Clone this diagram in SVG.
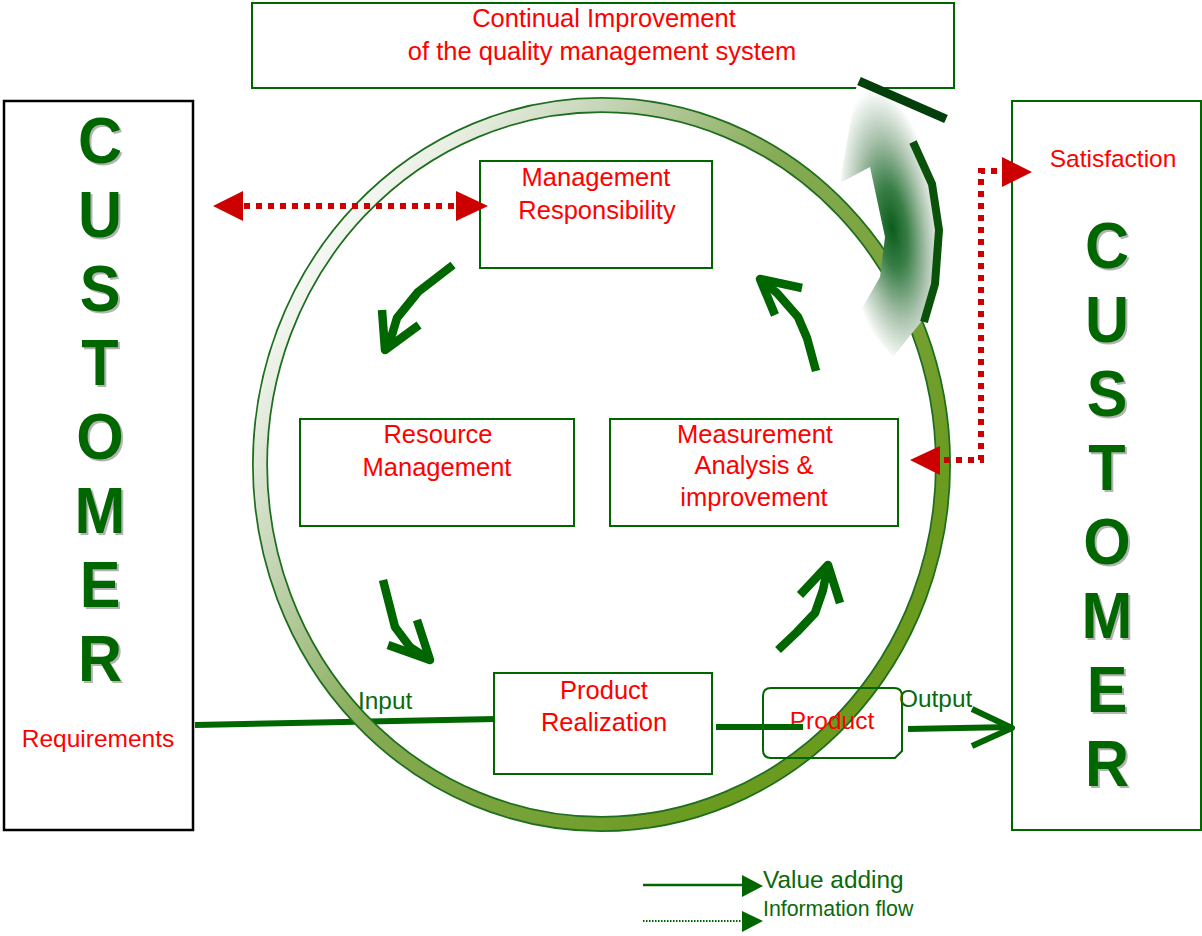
<svg xmlns="http://www.w3.org/2000/svg" xmlns:xlink="http://www.w3.org/1999/xlink" width="1202" height="936" viewBox="0 0 1202 936">
  <style>
    .box { fill: #ffffff; stroke: #006600; stroke-width: 2; }
    .boxk { fill: #ffffff; stroke: #000000; stroke-width: 2.5; }
    .lbl { font-family: "Liberation Sans", Arial, sans-serif; font-size: 25.5px; fill: #ff0000; text-anchor: middle; }
    .lbls { font-family: "Liberation Sans", Arial, sans-serif; font-size: 24.5px; fill: #ff0000; text-anchor: middle; }
    .grn { font-family: "Liberation Sans", Arial, sans-serif; font-size: 24.4px; fill: #0a6a0a; }
    .grn-sm { font-family: "Liberation Sans", Arial, sans-serif; font-size: 21.3px; fill: #0a6a0a; }
    .big { font-family: "Liberation Sans", Arial, sans-serif; font-size: 61px; font-weight: bold; text-anchor: middle; }
    .hand { fill: none; stroke: #006600; stroke-width: 8.5; stroke-linejoin: round; stroke-linecap: butt; }
    .flow { fill: none; stroke: #006600; stroke-width: 6; }
    .info { fill: none; stroke: #cc0000; stroke-width: 6; stroke-dasharray: 6 6; }
    .redhead { fill: #cc0000; }
  </style>
  <defs>
    <linearGradient id="ringGrad" gradientUnits="userSpaceOnUse" x1="250" y1="300" x2="800" y2="700">
      <stop offset="0" stop-color="#ffffff"/>
      <stop offset="0.25" stop-color="#c6d6b8"/>
      <stop offset="0.5" stop-color="#86ab55"/>
      <stop offset="1" stop-color="#6a9a1e"/>
    </linearGradient>
    <radialGradient id="arrowGrad" gradientUnits="userSpaceOnUse" cx="0" cy="0" r="1" gradientTransform="translate(892,228) rotate(-8) scale(50,140)">
      <stop offset="0" stop-color="#0a5c1a"/>
      <stop offset="0.3" stop-color="#3a7f48"/>
      <stop offset="0.65" stop-color="#a9c2ac"/>
      <stop offset="1" stop-color="#ffffff"/>
    </radialGradient>
    <g id="colLeft">
      <text class="big" transform="matrix(1,0,0,1.07,100,163)">C</text>
      <text class="big" transform="matrix(1,0,0,1.07,100,237)">U</text>
      <text class="big" transform="matrix(1,0,0,1.07,100,311)">S</text>
      <text class="big" transform="matrix(1,0,0,1.07,100,385)">T</text>
      <text class="big" transform="matrix(1,0,0,1.07,100,459)">O</text>
      <text class="big" transform="matrix(1,0,0,1.07,100,533)">M</text>
      <text class="big" transform="matrix(1,0,0,1.07,100,607)">E</text>
      <text class="big" transform="matrix(1,0,0,1.07,100,681)">R</text>
    </g>
    <g id="colRight">
      <text class="big" transform="matrix(1,0,0,1.07,1107,268)">C</text>
      <text class="big" transform="matrix(1,0,0,1.07,1107,342)">U</text>
      <text class="big" transform="matrix(1,0,0,1.07,1107,416)">S</text>
      <text class="big" transform="matrix(1,0,0,1.07,1107,490)">T</text>
      <text class="big" transform="matrix(1,0,0,1.07,1107,564)">O</text>
      <text class="big" transform="matrix(1,0,0,1.07,1107,638)">M</text>
      <text class="big" transform="matrix(1,0,0,1.07,1107,712)">E</text>
      <text class="big" transform="matrix(1,0,0,1.07,1107,786)">R</text>
    </g>
  </defs>

  <rect width="1202" height="936" fill="#ffffff"/>

  <!-- customer boxes -->
  <g id="customer-left">
    <rect class="boxk" x="4" y="101" width="189" height="729"/>
    <use xlink:href="#colLeft" fill="#b4b4b4" x="2" y="2"/>
    <use xlink:href="#colLeft" fill="#006600"/>
    <text class="lbls" x="98" y="747">Requirements</text>
  </g>
  <g id="customer-right">
    <rect class="box" x="1012" y="101" width="189" height="729"/>
    <use xlink:href="#colRight" fill="#b4b4b4" x="2" y="2"/>
    <use xlink:href="#colRight" fill="#006600"/>
    <text class="lbls" x="1113" y="167">Satisfaction</text>
  </g>

  <!-- input flow runs beneath the cycle ring -->
  <g id="connectors-under">
    <path class="flow" d="M195,725 L496,719"/>
  </g>

  <!-- continual improvement ring -->
  <g id="ring">
    <ellipse cx="601.5" cy="464.5" rx="341.5" ry="359.5" fill="none" stroke="#1f6e1f" stroke-width="16"/>
    <ellipse cx="601.5" cy="464.5" rx="341.5" ry="359.5" fill="none" stroke="url(#ringGrad)" stroke-width="12.5"/>
  </g>

  <g id="continual-improvement">
    <rect class="box" x="252" y="3" width="702" height="85"/>
    <text class="lbl" x="604" y="27">Continual Improvement</text>
    <text class="lbl" x="602" y="60">of the quality management system</text>
  </g>

  <g id="management-responsibility">
    <rect class="box" x="480" y="161" width="232" height="107"/>
    <text class="lbl" x="596" y="186">Management</text>
    <text class="lbl" x="597" y="219">Responsibility</text>
  </g>

  <g id="resource-management">
    <rect class="box" x="300" y="419" width="274" height="107"/>
    <text class="lbl" x="438" y="443">Resource</text>
    <text class="lbl" x="437" y="476">Management</text>
  </g>

  <g id="measurement">
    <rect class="box" x="610" y="419" width="288" height="107"/>
    <text class="lbl" x="755" y="443">Measurement</text>
    <text class="lbl" x="754" y="474">Analysis &amp;</text>
    <text class="lbl" x="754" y="506">improvement</text>
  </g>

  <g id="product-realization">
    <rect class="box" x="494" y="673" width="218" height="101"/>
    <text class="lbl" x="604" y="699">Product</text>
    <text class="lbl" x="604" y="731">Realization</text>
  </g>

  <g id="product">
    <path d="M771,688 H894 Q902,688 902,696 V751 L895,758 H771 Q763,758 763,750 V696 Q763,688 771,688 Z" fill="none" stroke="#006600" stroke-width="2"/>
    <text class="lbls" x="832" y="729">Product</text>
  </g>

  <!-- improvement arrow leaving the ring -->
  <g id="improvement-arrow">
    <path d="M858,315 L880,277 L885,237 L870,167 L840,183 L857,83 L948,118 L912,145 L932,185 L938,230 L933,282 L921,322 L893,357 Z" fill="url(#arrowGrad)"/>
    <path d="M913,142 L932,184 L939,230 L935,284 L924,322" fill="none" stroke="#0a520a" stroke-width="8"/>
    <path d="M859,81 L946,119" fill="none" stroke="#033f0a" stroke-width="9"/>
  </g>

  <g id="connectors">
    <!-- cycle arrows -->
    <path class="hand" d="M453,265 L418,292 L397,318 L388,348"/>
    <path class="hand" d="M382,310 L385,350 L419,325"/>
    <path class="hand" d="M816,371 L807,338 L798,317 L777,293 L760,279"/>
    <path class="hand" d="M802,288 L760,279 L775,315"/>
    <path class="hand" d="M383,580 L395,627 L410,647 L430,660"/>
    <path class="hand" d="M417,620 L430,660 L388,645"/>
    <path class="hand" d="M778,650 L797,632 L815,613 L823,590 L828,565"/>
    <path class="hand" d="M800,595 L828,565 L840,603"/>

    <!-- product flow -->
    <path class="flow" d="M716,727 L803,727"/>
    <path class="flow" d="M908,729 L1012,727"/>
    <path class="flow" d="M972,709 L1012,728 L972,746" stroke-linejoin="round"/>

    <!-- information flows -->
    <path class="info" d="M244,206 L456,206"/>
    <polygon class="redhead" points="213,206 243,191 243,221"/>
    <polygon class="redhead" points="488,206 456,191 456,221"/>
    <path class="info" d="M944,460 L981,460 L981,171 L1003,171"/>
    <polygon class="redhead" points="910,460 940,446 940,475"/>
    <polygon class="redhead" points="1032,172 1002,157 1002,187"/>

    <text class="grn" x="358" y="709">Input</text>
    <text class="grn" x="899" y="707">Output</text>
  </g>

  <!-- legend -->
  <g id="legend">
    <path d="M643,885 L743,885" stroke="#006600" stroke-width="2.5" fill="none"/>
    <polygon points="742,875 763,886 742,897" fill="#006600"/>
    <text class="grn" x="763" y="888">Value adding</text>
    <path d="M643,921 L743,921" stroke="#006600" stroke-width="2" stroke-dasharray="1.5 1.5" fill="none"/>
    <polygon points="742,911 763,921 742,932" fill="#006600"/>
    <text class="grn-sm" x="763" y="916">Information flow</text>
  </g>
</svg>
